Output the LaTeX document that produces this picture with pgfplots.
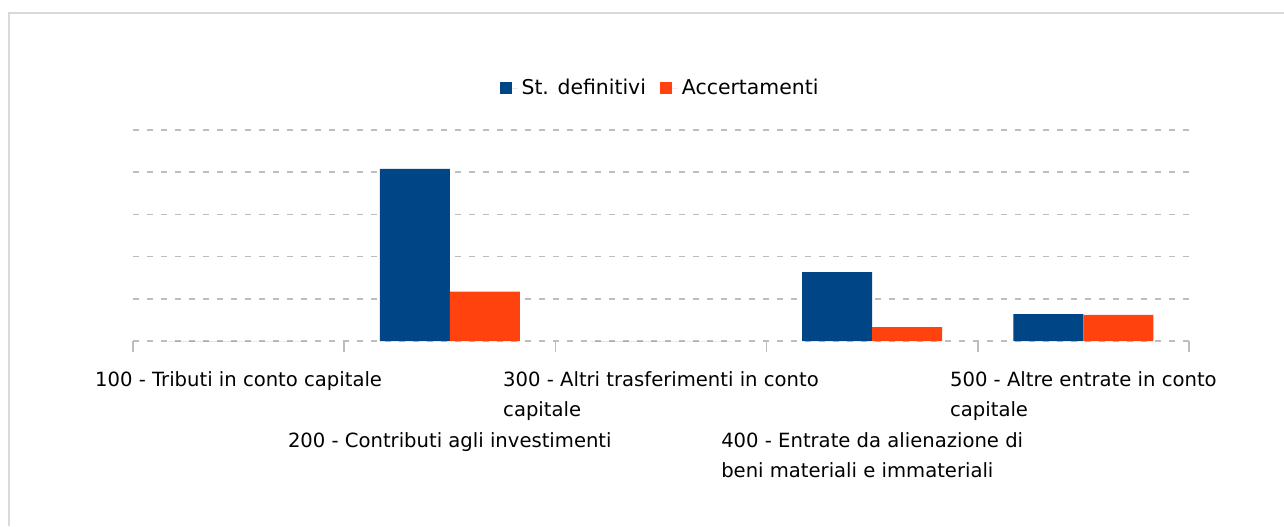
\documentclass[border=0pt]{standalone}
\usepackage{fontspec}
\setmainfont{DejaVu Sans}
\usepackage{pgfplots}
\pgfplotsset{compat=1.18}
\definecolor{cblue}{HTML}{004586}
\definecolor{corange}{HTML}{FF420E}
\definecolor{gridc}{HTML}{BDBDBD}
\definecolor{framec}{HTML}{D9D9D9}
\tikzset{catlab/.style={anchor=base, align=left, inner sep=0pt, font=\fontsize{9.8}{15}\selectfont}}
\begin{document}
\begin{tikzpicture}[x=1pt,y=1pt]
\path[use as bounding box] (0,0) rectangle (642,-263);
\draw[framec, line width=0.75pt] (4.5,-263) -- (4.5,-6.5) -- (642,-6.5);
\begin{axis}[at={(66.5pt,-170.5pt)}, anchor=south west, scale only axis,
  width=528pt, height=105.5pt,
  xmin=-0.5, xmax=4.5, ymin=0, ymax=5,
  ybar=0pt, bar width=35pt,
  axis line style={draw=none},
  xtick={-0.5,0.5,1.5,2.5,3.5,4.5}, xticklabels={},
  x tick style={draw=gridc, line width=0.75pt}, tick align=outside,
  major tick length=5.5pt, xtick pos=bottom,
  ytick={0,1,2,3,4,5}, yticklabels={}, y tick style={draw=none},
  ymajorgrids, grid style={draw=gridc, line width=0.8pt, dash pattern=on 3pt off 4pt},
  clip=false,
  legend columns=2,
  legend style={draw=none, fill=none, at={(0.5,1)}, anchor=center, yshift=21pt,
    font=\fontsize{10.2}{12}\selectfont,
    /tikz/every even column/.append style={column sep=5pt}},
  legend image code/.code={\draw[#1,draw=none] (0pt,-3pt) rectangle (6pt,3pt); \path (0pt,0pt) -- (9pt,0pt);},
]
\addplot[fill=cblue, draw=none] coordinates {(0,0) (1,4.08) (2,0) (3,1.63) (4,0.64)};
\addplot[fill=corange, draw=none] coordinates {(0,0) (1,1.17) (2,0) (3,0.33) (4,0.62)};
\legend{St. definitivi, Accertamenti}
\node[catlab, yshift=-22.75pt] at (axis cs:0,0) {100 - Tributi in conto capitale};
\node[catlab, yshift=-53.25pt] at (axis cs:1,0) {200 - Contributi agli investimenti};
\node[catlab, yshift=-37.75pt] at (axis cs:2,0) {300 - Altri trasferimenti in conto\\capitale};
\node[catlab, yshift=-68.25pt] at (axis cs:3,0) {400 - Entrate da alienazione di\\beni materiali e immateriali};
\node[catlab, yshift=-37.75pt] at (axis cs:4,0) {500 - Altre entrate in conto\\capitale};
\end{axis}
\end{tikzpicture}
\end{document}
